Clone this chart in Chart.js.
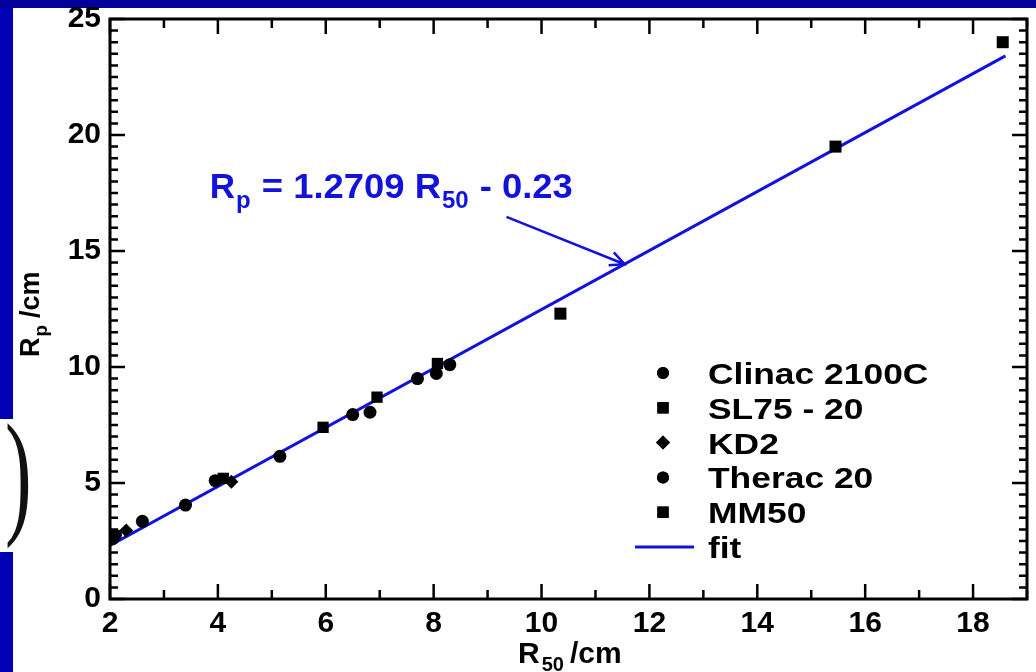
<!DOCTYPE html>
<html>
<head>
<meta charset="utf-8">
<script src="https://cdn.jsdelivr.net/npm/chart.js@4.4.1/dist/chart.umd.min.js"></script>
<style>
  html,body{margin:0;padding:0;}
  body{width:1036px;height:672px;position:relative;overflow:hidden;background:#0000b4;}
  #topbar{position:absolute;left:0;top:0;width:1036px;height:8px;background:#02029a;}
  #sheet{position:absolute;left:13px;top:8px;right:0;bottom:0;background:#fff;}
  #patch{position:absolute;left:0;top:419px;width:14px;height:133px;background:#fff;}
  #paren{position:absolute;left:5px;top:404px;font:400 80px "Liberation Serif",serif;color:#111;
         transform:scale(1.0,1.72);transform-origin:0 0;line-height:1;}
  #c{position:absolute;left:0;top:0;}
</style>
</head>
<body>
<div id="topbar"></div>
<div id="sheet"></div>
<div id="patch"></div>
<div id="paren">)</div>
<canvas id="c" width="1036" height="672"></canvas>
<script>
/* ================= data ================= */
const clinacX = [2.05, 2.6, 3.4, 5.15, 6.5, 8.3];
const clinacY = [2.6, 3.35, 4.05, 6.15, 7.95, 10.1];
const sl75X   = [4.1, 5.95, 6.95, 8.07];
const sl75Y   = [5.2, 7.4, 8.7, 10.15];
const kd2X    = [2.3, 4.25];
const kd2Y    = [2.95, 5.05];
const theracX = [2.1, 3.95, 6.82, 7.7, 8.05];
const theracY = [2.75, 5.1, 8.05, 9.5, 9.72];
const mm50X   = [10.35, 15.45, 18.55];
const mm50Y   = [12.3, 19.5, 24.0];
const fitX    = [2.0, 18.6];
const fitY    = [2.31, 23.41];

const xTicks = [2, 4, 6, 8, 10, 12, 14, 16, 18];
const yTicks = [0, 5, 10, 15, 20, 25];

const BLUE = '#1212dd';
const pts = (xs, ys) => xs.map((x, i) => ({x, y: ys[i]}));

/* ---------- little text helper (stretched like the original) ---------- */
function txt(ctx, s, x, y, size, color, sx = 1){
  ctx.save();
  ctx.font = `bold ${size}px "Liberation Sans", Arial, sans-serif`;
  ctx.fillStyle = color;
  ctx.textBaseline = 'alphabetic';
  ctx.translate(x, y); ctx.scale(sx, 1);
  ctx.fillText(s, 0, 0);
  const w = ctx.measureText(s).width * sx;
  ctx.restore();
  return w;
}

/* ---------- frame, inward ticks, titles, annotation, legend ---------- */
const decor = {
  id: 'decor',
  afterDatasetsDraw(chart){
    const {ctx, chartArea: a, scales: {x, y}} = chart;
    ctx.save();
    ctx.strokeStyle = '#000'; ctx.lineWidth = 3; ctx.lineCap = 'butt';
    ctx.strokeRect(a.left, a.top, a.right - a.left, a.bottom - a.top);
    ctx.lineWidth = 2.5;
    ctx.beginPath();
    for(let v = 2; v <= 19; v++){
      const px = x.getPixelForValue(v), L = v % 2 === 0 ? 15 : 9;
      ctx.moveTo(px, a.bottom); ctx.lineTo(px, a.bottom - L);
      ctx.moveTo(px, a.top);    ctx.lineTo(px, a.top + L);
    }
    for(let v = 0; v <= 25; v += 0.5){
      const py = y.getPixelForValue(v), L = v % 5 === 0 ? 15 : 8;
      ctx.moveTo(a.left, py);  ctx.lineTo(a.left + L, py);
      ctx.moveTo(a.right, py); ctx.lineTo(a.right - L, py);
    }
    ctx.stroke();

    // x title  R50 /cm
    let cx = 518;
    cx += txt(ctx, 'R', cx, 663, 30, '#000');
    cx += txt(ctx, '50', cx + 2, 671, 20, '#000') + 8;
    txt(ctx, '/cm', cx, 663, 30, '#000');

    // y title  Rp /cm (rotated)
    ctx.save();
    ctx.translate(39, 357); ctx.rotate(-Math.PI / 2);
    let cy = 0;
    cy += txt(ctx, 'R', cy, 0, 27, '#000');
    cy += txt(ctx, 'p', cy + 1, 8, 19, '#000') + 8;
    txt(ctx, '/cm', cy, 0, 27, '#000');
    ctx.restore();

    // equation + arrow
    let ex = x.getPixelForValue(3.85), ey = y.getPixelForValue(17.28);
    ex += txt(ctx, 'R', ex, ey, 35, BLUE);
    ex += txt(ctx, 'p', ex + 1, ey + 10, 24, BLUE) + 2;
    ex += txt(ctx, ' = 1.2709 R', ex, ey, 35, BLUE, 1.04);
    ex += txt(ctx, '50', ex + 1, ey + 10, 24, BLUE) + 2;
    txt(ctx, ' - 0.23', ex, ey, 35, BLUE, 1.04);

    const x0 = x.getPixelForValue(9.35), y0 = y.getPixelForValue(16.47);
    const x1 = x.getPixelForValue(11.54), y1 = y.getPixelForValue(14.43);
    const ang = Math.atan2(y1 - y0, x1 - x0);
    ctx.strokeStyle = BLUE; ctx.lineWidth = 2.5;
    ctx.beginPath();
    ctx.moveTo(x0, y0); ctx.lineTo(x1, y1);
    ctx.moveTo(x1 - 16 * Math.cos(ang - 0.45), y1 - 16 * Math.sin(ang - 0.45));
    ctx.lineTo(x1, y1);
    ctx.lineTo(x1 - 16 * Math.cos(ang + 0.45), y1 - 16 * Math.sin(ang + 0.45));
    ctx.stroke();

    // legend
    const lx = 663, tx = 708;
    chart.data.datasets.forEach((ds, i) => {
      const ly = 373 + i * 34.8;
      if(ds.showLine){
        ctx.strokeStyle = ds.borderColor; ctx.lineWidth = 3;
        ctx.beginPath(); ctx.moveTo(635, ly); ctx.lineTo(694, ly); ctx.stroke();
      }else{
        ctx.fillStyle = '#000';
        Chart.helpers.drawPoint(ctx, {pointStyle: ds.pointStyle, radius: ds.legendRadius, rotation: 0, borderWidth: 0}, lx, ly);
        ctx.fill();
      }
      txt(ctx, ds.label, tx, ly + 11, 30, '#000', 1.18);
    });
    ctx.restore();
  }
};

/* ---------- chart ---------- */
const mk = (label, data, style, r, lr) => ({
  label, data, pointStyle: style, pointRadius: r, pointHoverRadius: r, legendRadius: lr,
  backgroundColor: '#000', borderColor: '#000', borderWidth: 0, showLine: false
});

const FONT = {size: 30, weight: 'bold', family: '"Liberation Sans", Arial, sans-serif'};

new Chart(document.getElementById('c'), {
  type: 'scatter',
  data: {
    datasets: [
      mk('Clinac 2100C', pts(clinacX, clinacY), 'circle', 6.5, 6),
      mk('SL75 - 20', pts(sl75X, sl75Y), 'rect', 8, 8),
      mk('KD2', pts(kd2X, kd2Y), 'rectRot', 7, 7),
      mk('Therac 20', pts(theracX, theracY), 'circle', 6.5, 6),
      mk('MM50', pts(mm50X, mm50Y), 'rect', 8.5, 8),
      {label: 'fit', data: pts(fitX, fitY), showLine: true, borderColor: BLUE,
       borderWidth: 3, pointRadius: 0, backgroundColor: BLUE}
    ]
  },
  options: {
    responsive: false,
    animation: false,
    events: [],
    layout: {padding: {top: 19, right: 9, left: 0, bottom: 0}},
    plugins: {legend: {display: false}, tooltip: {enabled: false}},
    scales: {
      x: {
        type: 'linear', min: 2, max: 19,
        grid: {display: false, drawTicks: false}, border: {display: false},
        afterFit: s => { s.height = 73; s.paddingLeft = 0; s.paddingRight = 0; },
        afterBuildTicks: s => { s.ticks = xTicks.map(v => ({value: v})); },
        ticks: {padding: 7, maxRotation: 0, autoSkip: false, color: '#000', font: FONT}
      },
      y: {
        type: 'linear', min: 0, max: 25,
        grid: {display: false, drawTicks: false}, border: {display: false},
        afterFit: s => { s.width = 110; s.paddingTop = 0; s.paddingBottom = 0; },
        afterBuildTicks: s => { s.ticks = yTicks.map(v => ({value: v})); },
        ticks: {padding: 9, color: '#000', font: FONT}
      }
    }
  },
  plugins: [decor]
});
</script>
</body>
</html>
